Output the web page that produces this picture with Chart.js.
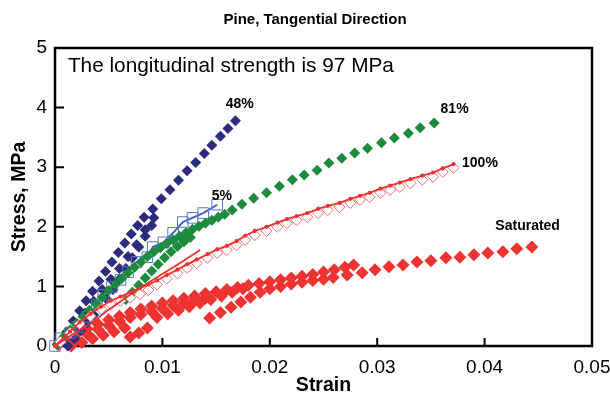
<!DOCTYPE html>
<html>
<head>
<meta charset="utf-8">
<script src="https://cdn.jsdelivr.net/npm/chart.js@4"></script>
<style>
  html, body { margin: 0; padding: 0; background: #fff; }
  #wrap { width: 610px; height: 394px; }
</style>
</head>
<body>
<div id="wrap"><canvas id="chart" width="610" height="394"></canvas></div>
<script>
const TITLE = "Pine, Tangential Direction";
const X_TICKS = [0, 0.01, 0.02, 0.03, 0.04, 0.05];
const X_TICK_LABELS = ["0", "0.01", "0.02", "0.03", "0.04", "0.05"];
const Y_TICKS = [0, 1, 2, 3, 4, 5];

// 48% moisture, three interleaved rows of filled diamonds
const m48aX = [0.0005, 0.0011, 0.0017, 0.0023, 0.0029, 0.0035, 0.0041, 0.0047, 0.0053, 0.0059, 0.0065, 0.0071, 0.0077, 0.0083,
  0.0091, 0.0099, 0.0107, 0.0115, 0.0123, 0.0131, 0.0139, 0.0146, 0.0154, 0.0161, 0.0168];
const m48aY = [0.06, 0.24, 0.42, 0.59, 0.76, 0.92, 1.09, 1.25, 1.41, 1.57, 1.73, 1.88, 2.02, 2.16,
  2.30, 2.47, 2.62, 2.78, 2.94, 3.08, 3.23, 3.37, 3.52, 3.65, 3.78];
const m48bX = [0.0012, 0.0018, 0.0024, 0.003, 0.0036, 0.0042, 0.0048, 0.0054, 0.006, 0.0066, 0.0072, 0.0078, 0.0084, 0.009];
const m48bY = [0.0, 0.12, 0.26, 0.39, 0.52, 0.65, 0.79, 0.95, 1.12, 1.3, 1.48, 1.66, 1.84, 2.02];
const m48cX = [0.0028, 0.0036, 0.0044, 0.0052, 0.006, 0.0068, 0.0076, 0.0084, 0.0092];
const m48cY = [0.55, 0.75, 0.95, 1.12, 1.3, 1.5, 1.7, 1.95, 2.15];

// 5% moisture, open squares joined by a line
const m5X = [0, 0.0005, 0.0014, 0.0021, 0.003, 0.0039, 0.0045, 0.0053, 0.0061, 0.0068, 0.0076, 0.0086, 0.0091, 0.0101, 0.011, 0.0119, 0.0128, 0.0138, 0.0151];
const m5Y = [0.0, 0.13, 0.22, 0.32, 0.49, 0.69, 0.86, 0.99, 1.11, 1.24, 1.41, 1.49, 1.66, 1.74, 1.9, 2.08, 2.15, 2.23, 2.37];

// 81% moisture, filled diamonds
const m81aX = [0.0002, 0.0008, 0.0014, 0.002, 0.0026, 0.0032, 0.0038, 0.0044, 0.005, 0.0056, 0.0062, 0.0068, 0.0074, 0.008,
  0.0086, 0.0092, 0.0098, 0.0104, 0.011, 0.0116, 0.0122, 0.0128, 0.0134, 0.014, 0.0146, 0.0152, 0.0158,
  0.0165, 0.0174, 0.0185, 0.0197, 0.0209, 0.0221, 0.0232, 0.0244, 0.0255, 0.0267, 0.0279, 0.0291, 0.0304, 0.0316, 0.0329, 0.034, 0.0353];
const m81aY = [0.03, 0.15, 0.27, 0.38, 0.49, 0.6, 0.71, 0.82, 0.93, 1.03, 1.13, 1.23, 1.32, 1.41,
  1.5, 1.58, 1.65, 1.72, 1.78, 1.84, 1.9, 1.96, 2.01, 2.06, 2.11, 2.16, 2.21,
  2.28, 2.38, 2.48, 2.57, 2.68, 2.79, 2.87, 2.95, 3.07, 3.15, 3.24, 3.32, 3.41, 3.49, 3.57, 3.66, 3.74];
const m81bX = [0.0066, 0.0072, 0.0078, 0.0084, 0.009, 0.0096, 0.0102, 0.0108, 0.0114, 0.012, 0.0126];
const m81bY = [0.78, 0.9, 1.02, 1.14, 1.26, 1.37, 1.48, 1.58, 1.67, 1.75, 1.82];

// 100% moisture, open diamonds and the two red lines
const m100X = [0.0005, 0.0014, 0.0023, 0.0033, 0.0043, 0.0052, 0.0061, 0.007, 0.0079, 0.0087, 0.0095, 0.0104, 0.0114, 0.0123,
  0.0132, 0.0142, 0.0151, 0.016, 0.0169, 0.0177, 0.0186, 0.0197, 0.0207, 0.0216, 0.0225, 0.0235, 0.0245, 0.0254,
  0.0265, 0.0275, 0.0284, 0.0293, 0.0303, 0.0312, 0.0321, 0.0331, 0.0342, 0.0352, 0.0361, 0.0371];
const m100Y = [0.07, 0.22, 0.37, 0.5, 0.62, 0.7, 0.76, 0.81, 0.87, 0.94, 1.03, 1.13, 1.22, 1.31,
  1.39, 1.48, 1.56, 1.61, 1.69, 1.78, 1.86, 1.93, 2.0, 2.06, 2.11, 2.16, 2.23, 2.28,
  2.33, 2.4, 2.45, 2.5, 2.57, 2.62, 2.67, 2.73, 2.79, 2.84, 2.92, 2.99];
const m100LineX = [0, 0.0014, 0.0023, 0.0033, 0.0043, 0.0052, 0.0061, 0.007, 0.0079, 0.0087, 0.0095, 0.0104, 0.0114, 0.0123,
  0.0132, 0.0142, 0.0151, 0.016, 0.0169, 0.0177, 0.0186, 0.0197, 0.0207, 0.0216, 0.0225, 0.0235, 0.0245, 0.0254,
  0.0265, 0.0275, 0.0284, 0.0293, 0.0303, 0.0312, 0.0321, 0.0331, 0.0342, 0.0352, 0.0361, 0.0371];
const m100LineY = [0, 0.24, 0.4, 0.54, 0.66, 0.76, 0.83, 0.9, 0.97, 1.03, 1.1, 1.19, 1.28, 1.37,
  1.45, 1.54, 1.62, 1.68, 1.76, 1.85, 1.93, 2.0, 2.07, 2.13, 2.18, 2.23, 2.3, 2.35,
  2.4, 2.47, 2.52, 2.57, 2.64, 2.69, 2.74, 2.8, 2.86, 2.91, 2.98, 3.05];
const m100TipX = [0, 0.001, 0.002, 0.0035, 0.005, 0.007, 0.0085, 0.0101, 0.0118, 0.0135];
const m100TipY = [0, 0.12, 0.24, 0.4, 0.61, 0.86, 1.04, 1.22, 1.41, 1.61];

// saturated, filled diamonds
const satAX = [0.0003, 0.001, 0.002, 0.003, 0.004, 0.005, 0.006, 0.007, 0.008, 0.009, 0.01, 0.011, 0.012, 0.013, 0.014,
  0.015, 0.016, 0.017, 0.018, 0.019, 0.02, 0.021, 0.022, 0.023, 0.024, 0.025, 0.026, 0.027, 0.0278];
const satAY = [0.02, 0.1, 0.2, 0.29, 0.37, 0.44, 0.5, 0.56, 0.62, 0.67, 0.72, 0.76, 0.8, 0.84, 0.88,
  0.91, 0.95, 0.98, 1.02, 1.05, 1.08, 1.11, 1.14, 1.17, 1.2, 1.24, 1.28, 1.32, 1.36];
const satBX = [0.0015, 0.0025, 0.0035, 0.0045, 0.0055, 0.0065, 0.007, 0.0078, 0.0086, 0.0095, 0.0105, 0.0115, 0.0125, 0.0135, 0.0145, 0.0155, 0.0165, 0.0175];
const satBY = [0.0, 0.06, 0.12, 0.18, 0.24, 0.3, 0.15, 0.22, 0.3, 0.48, 0.54, 0.6, 0.66, 0.72, 0.78, 0.84, 0.9, 0.96];
const satDX = [0.002, 0.003, 0.004, 0.005, 0.006, 0.007, 0.008, 0.009, 0.01, 0.011, 0.012, 0.013, 0.014];
const satDY = [0.1, 0.2, 0.28, 0.35, 0.42, 0.48, 0.53, 0.58, 0.63, 0.68, 0.72, 0.76, 0.8];
const satCX = [0.0144, 0.0154, 0.0164, 0.0173, 0.0182, 0.0191, 0.02, 0.021, 0.022, 0.023, 0.024, 0.025, 0.0259, 0.0272,
  0.0286, 0.0298, 0.0311, 0.0324, 0.0337, 0.035, 0.0364, 0.0377, 0.039, 0.0403, 0.0417, 0.043, 0.0444];
const satCY = [0.47, 0.56, 0.65, 0.74, 0.82, 0.9, 0.96, 1.0, 1.04, 1.07, 1.1, 1.12, 1.15, 1.19,
  1.23, 1.28, 1.33, 1.36, 1.41, 1.43, 1.48, 1.49, 1.53, 1.56, 1.58, 1.63, 1.66];

// text placed in the plot, [x, y, text]
const SERIES_LABELS = [
  [0.0159, 4.05, "48%"],
  [0.0359, 3.97, "81%"],
  [0.0146, 2.52, "5%"],
  [0.0379, 3.06, "100%"],
  [0.0410, 2.01, "Saturated"],
];
const NOTE = [0.0012, 4.7, "The longitudinal strength is 97 MPa"];

const NAVY = "#2c2b7c";
const GREEN = "#1d8b3d";
const RED = "#ef3232";
const BLUE = "#3b5ec6";
const FAMILY = "'Liberation Sans', Arial, sans-serif";

const pts = (xs, ys) => xs.map((x, i) => ({ x, y: ys[i] }));

function diamonds(label, xs, ys, color, radius, order) {
  return {
    label,
    data: pts(xs, ys),
    showLine: false,
    pointStyle: "rectRot",
    pointRadius: radius,
    pointBackgroundColor: color,
    pointBorderColor: color,
    pointBorderWidth: 0,
    clip: false,
    order,
  };
}

const frame = {
  id: "frame",
  beforeDatasetsDraw(chart) {
    const { ctx, chartArea: a, scales } = chart;
    ctx.save();
    ctx.strokeStyle = "#000";
    ctx.lineWidth = 2.5;
    ctx.strokeRect(a.left, a.top, a.right - a.left, a.bottom - a.top);
    ctx.lineWidth = 2;
    ctx.beginPath();
    for (const v of X_TICKS.slice(1, -1)) {
      const px = scales.x.getPixelForValue(v);
      ctx.moveTo(px, a.bottom);
      ctx.lineTo(px, a.bottom - 8);
    }
    for (const v of Y_TICKS.slice(1, -1)) {
      const py = scales.y.getPixelForValue(v);
      ctx.moveTo(a.left, py);
      ctx.lineTo(a.left + 9, py);
    }
    ctx.stroke();
    ctx.restore();
  },
  afterDatasetsDraw(chart) {
    const { ctx, scales } = chart;
    ctx.save();
    ctx.fillStyle = "#000";
    ctx.textBaseline = "middle";
    ctx.textAlign = "left";
    ctx.font = `bold 14px ${FAMILY}`;
    for (const [x, y, t] of SERIES_LABELS) {
      ctx.fillText(t, scales.x.getPixelForValue(x), scales.y.getPixelForValue(y));
    }
    ctx.font = `20.8px ${FAMILY}`;
    ctx.fillText(NOTE[2], scales.x.getPixelForValue(NOTE[0]), scales.y.getPixelForValue(NOTE[1]));
    // chart title, centred a little right of the canvas middle as in the source
    ctx.textAlign = "center";
    ctx.font = `bold 15px ${FAMILY}`;
    ctx.fillText(TITLE, 315, 20);
    ctx.restore();
  },
};

const tickFont = { family: FAMILY, size: 19 };
const titleFont = { family: FAMILY, size: 19.5, weight: "bold" };

new Chart(document.getElementById("chart"), {
  type: "scatter",
  data: {
    datasets: [
      diamonds("Saturated", satAX, satAY, RED, 6.5, 6),
      diamonds("Saturated b", satBX, satBY, RED, 6.5, 6),
      diamonds("Saturated d", satDX, satDY, RED, 6.5, 6),
      diamonds("Saturated c", satCX, satCY, RED, 6.5, 6),
      diamonds("48%", m48aX, m48aY, NAVY, 5.5, 5),
      diamonds("48% b", m48bX, m48bY, NAVY, 5.5, 5),
      diamonds("48% c", m48cX, m48cY, NAVY, 5.5, 5),
      {
        label: "5%",
        data: pts(m5X, m5Y),
        showLine: true,
        borderColor: BLUE,
        borderWidth: 1.8,
        pointStyle: "rect",
        pointRadius: 7.5,
        pointBackgroundColor: "rgba(0,0,0,0)",
        pointBorderColor: "#5b74cf",
        pointBorderWidth: 1,
        clip: false,
        order: 4,
      },
      diamonds("81%", m81aX, m81aY, GREEN, 5.5, 3),
      diamonds("81% b", m81bX, m81bY, GREEN, 5.5, 3),
      {
        label: "100%",
        data: pts(m100X, m100Y),
        showLine: false,
        pointStyle: "rectRot",
        pointRadius: 5.5,
        pointBackgroundColor: "#fff",
        pointBorderColor: "#f26a6a",
        pointBorderWidth: 1,
        clip: false,
        order: 2,
      },
      {
        label: "100% line",
        data: pts(m100LineX, m100LineY),
        showLine: true,
        borderColor: RED,
        borderWidth: 1.8,
        pointRadius: 1.2,
        pointBackgroundColor: RED,
        pointBorderColor: RED,
        clip: false,
        order: 1,
      },
      {
        label: "100% second",
        data: pts(m100TipX, m100TipY),
        showLine: true,
        borderColor: RED,
        borderWidth: 1.8,
        pointRadius: 0,
        clip: false,
        order: 1,
      },
    ],
  },
  options: {
    responsive: false,
    animation: false,
    layout: { padding: { left: 0, right: 18, top: 48, bottom: 0 } },
    plugins: {
      legend: { display: false },
      tooltip: { enabled: false },
      title: { display: false },
    },
    scales: {
      x: {
        type: "linear",
        min: 0,
        max: 0.05,
        afterBuildTicks: (s) => { s.ticks = X_TICKS.map((v) => ({ value: v })); },
        afterFit: (s) => {
          s.height = 48;
          s.paddingLeft = 0;
          s.paddingRight = 0;
        },
        grid: { display: false, drawTicks: false },
        border: { display: false },
        ticks: {
          color: "#000",
          font: tickFont,
          padding: 10,
          maxRotation: 0,
          callback: (v, i) => X_TICK_LABELS[i],
        },
        title: { display: true, text: "Strain", color: "#000", font: titleFont, padding: { top: 0, bottom: -3 } },
      },
      y: {
        type: "linear",
        min: 0,
        max: 5,
        afterBuildTicks: (s) => { s.ticks = Y_TICKS.map((v) => ({ value: v })); },
        afterFit: (s) => {
          s.width = 55;
          s.paddingTop = 0;
          s.paddingBottom = 0;
        },
        grid: { display: false, drawTicks: false },
        border: { display: false },
        ticks: { color: "#000", font: tickFont, padding: 8, callback: (v) => String(v) },
        title: { display: true, text: "Stress, MPa", color: "#000", font: titleFont, padding: { top: 8, bottom: 0 } },
      },
    },
  },
  plugins: [frame],
});
</script>
</body>
</html>
